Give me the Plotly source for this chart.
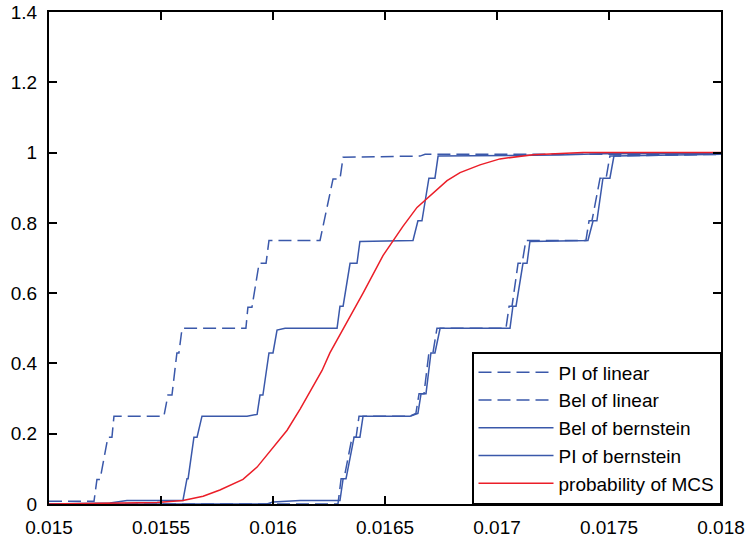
import plotly.graph_objects as go

# ---- data ----
pl_linear_x = [0.015, 0.015201, 0.015214, 0.015228, 0.015263, 0.015281, 0.015290, 0.015513,
               0.015531, 0.015549, 0.015571, 0.015580, 0.015594, 0.015879, 0.015888, 0.015906,
               0.015938, 0.015969, 0.015982, 0.016210, 0.016268, 0.016299, 0.016313, 0.016656,
               0.016679, 0.018]
pl_linear_y = [0.008, 0.008, 0.07, 0.07, 0.19, 0.19, 0.25, 0.25,
               0.31, 0.31, 0.43, 0.43, 0.5, 0.5, 0.56, 0.56,
               0.685, 0.685, 0.75, 0.75, 0.925, 0.925, 0.987, 0.99,
               0.995, 0.995]

bel_linear_x = [0.015, 0.016290, 0.016304, 0.016317, 0.016353, 0.016371, 0.016384, 0.016612,
                0.016638, 0.016652, 0.016674, 0.016696, 0.016714, 0.016732, 0.017040, 0.017054,
                0.017067, 0.017094, 0.017112, 0.017129, 0.017397, 0.017411, 0.017424, 0.017460,
                0.017487, 0.017504, 0.018]
bel_linear_y = [0.0, 0.0, 0.072, 0.072, 0.19, 0.19, 0.25, 0.25,
                0.258, 0.314, 0.314, 0.43, 0.43, 0.5, 0.5, 0.563,
                0.563, 0.685, 0.685, 0.75, 0.75, 0.806, 0.806, 0.927,
                0.927, 0.99, 0.995]

bel_bern_x = [0.015, 0.015973, 0.016000, 0.016121, 0.016299, 0.016313, 0.016326, 0.016362,
              0.016388, 0.016402, 0.016612, 0.016647, 0.016661, 0.016683, 0.016705, 0.016723,
              0.016746, 0.017058, 0.017071, 0.017085, 0.017116, 0.017134, 0.017147, 0.017406,
              0.017429, 0.017446, 0.017473, 0.017504, 0.017522, 0.018]
bel_bern_y = [0.0, 0.0, 0.006, 0.01, 0.01, 0.072, 0.072, 0.19,
              0.19, 0.25, 0.25, 0.258, 0.314, 0.314, 0.43, 0.43,
              0.5, 0.5, 0.563, 0.563, 0.685, 0.685, 0.747, 0.75,
              0.806, 0.806, 0.927, 0.927, 0.99, 0.995]

pl_bern_x = [0.015, 0.015272, 0.015348, 0.015598, 0.015616, 0.015621, 0.015647, 0.015661,
             0.015683, 0.015884, 0.015929, 0.015942, 0.015955, 0.015982, 0.016000, 0.016018,
             0.016054, 0.016286, 0.016299, 0.016313, 0.016344, 0.016375, 0.016388, 0.016625,
             0.016647, 0.016665, 0.016696, 0.016723, 0.016737, 0.017281, 0.017460, 0.018]
pl_bern_y = [0.0, 0.003, 0.01, 0.01, 0.072, 0.072, 0.19, 0.19,
             0.25, 0.25, 0.255, 0.31, 0.31, 0.43, 0.43, 0.495,
             0.5, 0.5, 0.563, 0.563, 0.685, 0.685, 0.747, 0.75,
             0.806, 0.806, 0.927, 0.927, 0.99, 0.993, 0.997, 0.998]

mcs_x = [0.015, 0.015228, 0.015482, 0.015598, 0.015688, 0.015763, 0.015821, 0.015866,
         0.015929, 0.016000, 0.016063, 0.016121, 0.016170, 0.016219, 0.016254, 0.016330,
         0.016402, 0.016491, 0.016536, 0.016580, 0.016643, 0.016701, 0.016777, 0.016835,
         0.016924, 0.017013, 0.017161, 0.017384, 0.018]
mcs_y = [0.0, 0.001, 0.004, 0.01, 0.022, 0.04, 0.056, 0.07,
         0.105, 0.16, 0.21, 0.27, 0.325, 0.38, 0.43, 0.516,
         0.60, 0.707, 0.75, 0.79, 0.844, 0.877, 0.92, 0.943,
         0.965, 0.982, 0.994, 1.0, 1.0]

x_ticks = [0.015, 0.0155, 0.016, 0.0165, 0.017, 0.0175, 0.018]
x_tick_labels = ["0.015", "0.0155", "0.016", "0.0165", "0.017", "0.0175", "0.018"]
y_ticks = [0, 0.2, 0.4, 0.6, 0.8, 1.0, 1.2, 1.4]
y_tick_labels = ["0", "0.2", "0.4", "0.6", "0.8", "1", "1.2", "1.4"]

BLUE = "rgb(58,88,170)"
RED = "rgb(235,30,40)"
DASH = "13px,6px"
FONT = "Liberation Sans, Arial"

fig = go.Figure()
fig.add_trace(go.Scatter(x=pl_linear_x, y=pl_linear_y, mode="lines", name="PI of linear",
                         line=dict(color=BLUE, width=1.5, dash=DASH)))
fig.add_trace(go.Scatter(x=bel_linear_x, y=bel_linear_y, mode="lines", name="Bel of linear",
                         line=dict(color=BLUE, width=1.5, dash=DASH)))
fig.add_trace(go.Scatter(x=bel_bern_x, y=bel_bern_y, mode="lines", name="Bel of bernstein",
                         line=dict(color=BLUE, width=1.5)))
fig.add_trace(go.Scatter(x=pl_bern_x, y=pl_bern_y, mode="lines", name="PI of bernstein",
                         line=dict(color=BLUE, width=1.5)))
fig.add_trace(go.Scatter(x=mcs_x, y=mcs_y, mode="lines", name="probability of MCS",
                         line=dict(color=RED, width=1.5)))

axis_common = dict(showgrid=False, zeroline=False, showline=True, linecolor="black",
                   linewidth=2, mirror="ticks", ticks="inside", ticklen=8, tickwidth=1.5,
                   tickcolor="black", automargin=False,
                   tickfont=dict(family=FONT, size=19, color="black"))

fig.update_xaxes(range=[0.015, 0.018], tickvals=x_ticks, ticktext=x_tick_labels,
                 ticklabelstandoff=5, **axis_common)
fig.update_yaxes(range=[0, 1.4], tickvals=y_ticks, ticktext=y_tick_labels,
                 ticklabelstandoff=6, **axis_common)

fig.update_layout(
    width=748, height=539,
    margin=dict(l=49, r=27, t=12, b=35, autoexpand=False),
    paper_bgcolor="white", plot_bgcolor="white",
    font=dict(family=FONT, size=19, color="black"),
    legend=dict(x=1, xanchor="right", y=0, yanchor="bottom", bgcolor="white",
                bordercolor="black", borderwidth=1.5, itemwidth=75,
                font=dict(family=FONT, size=19, color="black"),
                tracegroupgap=0),
    showlegend=True,
)

fig.write_html("out.html")
